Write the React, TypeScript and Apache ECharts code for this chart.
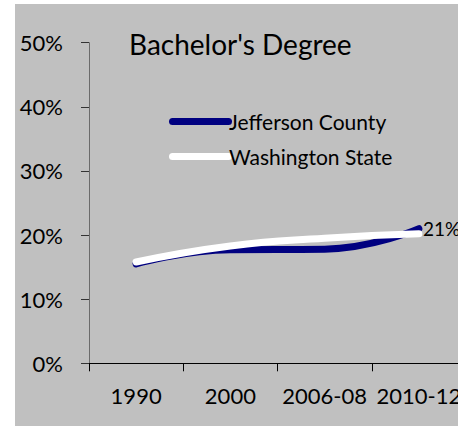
import React, { useEffect, useRef } from "react";
import * as echarts from "echarts";

const categories = ["1990", "2000", "2006-08", "2010-12"];
const jeffersonValues = [15.5, 17.7, 17.8, 21.0];
const washingtonValues = [15.8, 18.3, 19.5, 20.2];
const yTicks = [0, 10, 20, 30, 40, 50];
const seriesNames = ["Jefferson County", "Washington State"];
const titleText = "Bachelor's Degree";

const FONT = "Lato";

export default function App() {
  const ref = useRef<HTMLDivElement>(null);
  useEffect(() => {
    if (!ref.current) return;
    const chart = echarts.init(ref.current, undefined, { renderer: "svg" });
    const legendIcon =
      "path://M3.5,0 L59.5,0 A3.5,3.5 0 0 1 59.5,7 L3.5,7 A3.5,3.5 0 0 1 3.5,0 Z";
    chart.setOption({
      animation: false,
      backgroundColor: "#c0c0c0",
      textStyle: { fontFamily: FONT },
      title: {
        text: titleText,
        left: 114,
        top: 26,
        padding: 0,
        textStyle: { fontFamily: FONT, fontSize: 28, fontWeight: "normal", color: "#000" },
      },
      legend: {
        orient: "vertical",
        left: 149,
        top: 102,
        itemWidth: 63,
        itemHeight: 7,
        itemGap: 14,
        textStyle: { fontFamily: FONT, fontSize: 21, color: "#000", padding: [0, 0, 0, -8] },
        data: [
          { name: seriesNames[0], icon: legendIcon, itemStyle: { color: "#000080" } },
          { name: seriesNames[1], icon: legendIcon, itemStyle: { color: "#ffffff" } },
        ],
      },
      grid: {
        left: 74,
        top: 38.7,
        width: 377,
        height: 320.6,
        containLabel: false,
        outerBoundsMode: "none",
      },
      xAxis: {
        type: "category",
        data: categories,
        boundaryGap: true,
        axisLine: { lineStyle: { color: "#000", width: 1 } },
        axisTick: { show: true, length: 8, interval: 0, alignWithLabel: false, lineStyle: { color: "#000" } },
        axisLabel: {
          fontFamily: FONT,
          fontSize: 22,
          color: "#000",
          margin: 21,
          interval: 0,
          hideOverlap: false,
        },
        splitLine: { show: false },
      },
      yAxis: {
        type: "value",
        min: yTicks[0],
        max: yTicks[yTicks.length - 1],
        interval: 10,
        axisLine: { show: true, lineStyle: { color: "#6b6b6b", width: 1 } },
        axisTick: { show: true, length: 8, lineStyle: { color: "#333" } },
        axisLabel: {
          fontFamily: FONT,
          fontSize: 22,
          color: "#000",
          margin: 26,
          formatter: "{value}%",
        },
        splitLine: { show: false },
      },
      series: [
        {
          name: seriesNames[0],
          type: "line",
          smooth: true,
          showSymbol: false,
          symbol: "none",
          clip: false,
          color: "#000080",
          lineStyle: { color: "#000080", width: 7, cap: "round", join: "round" },
          endLabel: {
            show: true,
            distance: 4,
            fontFamily: FONT,
            fontSize: 19,
            color: "#000",
            formatter: (p: any) => Math.round(p.value) + "%",
          },
          data: jeffersonValues,
        },
        {
          name: seriesNames[1],
          type: "line",
          smooth: true,
          showSymbol: false,
          symbol: "none",
          color: "#ffffff",
          lineStyle: { color: "#ffffff", width: 7, cap: "round", join: "round" },
          data: washingtonValues,
        },
      ],
    });
    return () => chart.dispose();
  }, []);
  return (
    <div
      ref={ref}
      style={{ position: "absolute", left: 15, top: 4, width: 443, height: 422 }}
    />
  );
}
